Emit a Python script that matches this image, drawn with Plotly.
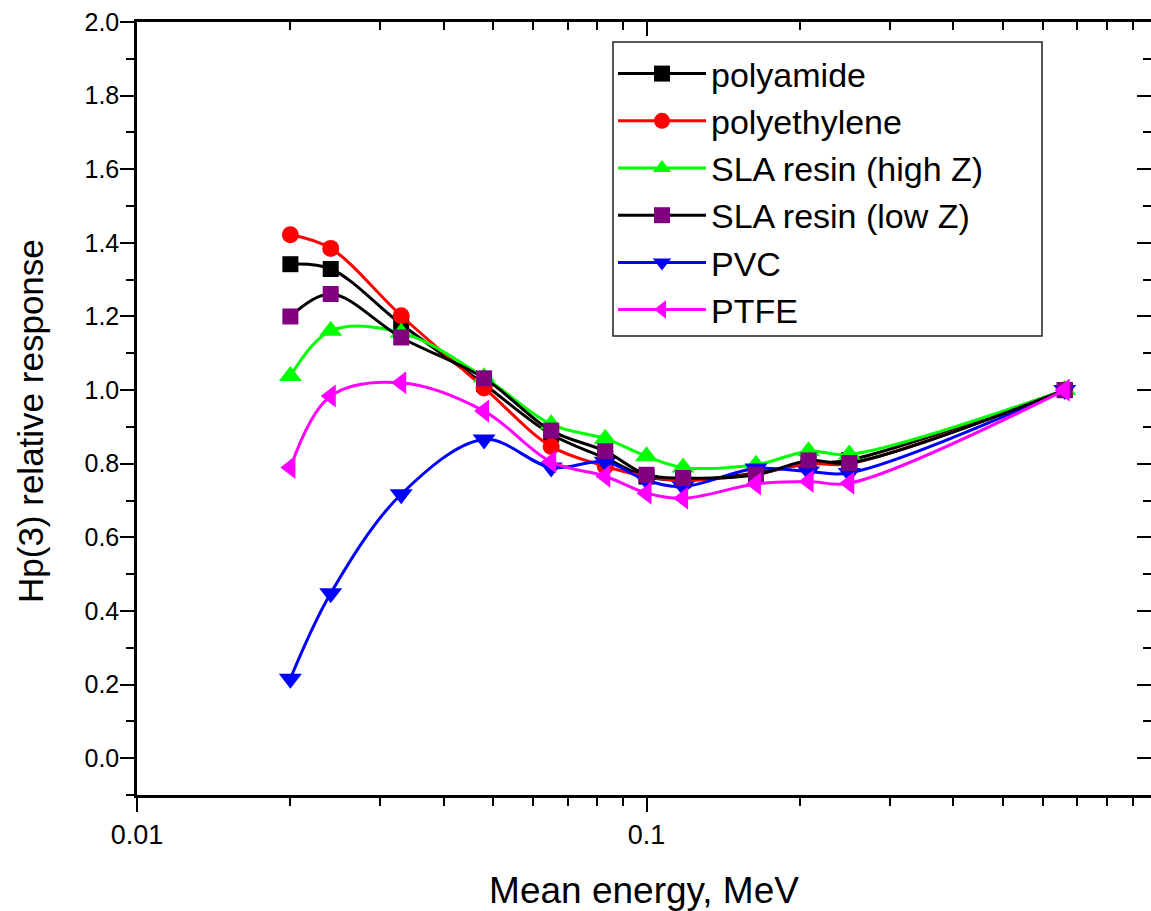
import plotly.graph_objects as go

energy = [0.020, 0.024, 0.033, 0.048, 0.065, 0.083, 0.100, 0.118, 0.164, 0.208, 0.250, 0.662]

polyamide    = [1.342, 1.329, 1.179, 1.016, 0.880, 0.815, 0.765, 0.755, 0.775, 0.800, 0.810, 1.000]
polyethylene = [1.422, 1.385, 1.202, 1.006, 0.847, 0.793, 0.765, 0.755, 0.772, 0.800, 0.800, 1.000]
sla_high     = [1.038, 1.161, 1.156, 1.035, 0.907, 0.868, 0.820, 0.790, 0.797, 0.834, 0.825, 1.000]
sla_low      = [1.200, 1.261, 1.143, 1.032, 0.890, 0.834, 0.770, 0.761, 0.770, 0.809, 0.802, 1.000]
pvc          = [0.216, 0.448, 0.717, 0.866, 0.790, 0.805, 0.755, 0.738, 0.787, 0.779, 0.775, 1.000]
ptfe         = [0.790, 0.984, 1.020, 0.943, 0.805, 0.766, 0.720, 0.706, 0.745, 0.752, 0.747, 1.000]

x_ticks = [0.01, 0.1]
x_minor = [0.02, 0.03, 0.04, 0.05, 0.06, 0.07, 0.08, 0.09,
           0.2, 0.3, 0.4, 0.5, 0.6, 0.7, 0.8, 0.9]

series = [
    ("polyamide", polyamide, "#000000", "#000000", "square", 16, 1),
    ("polyethylene", polyethylene, "#FF0000", "#FF0000", "circle", 17, 2),
    ("SLA resin (high Z)", sla_high, "#00FF00", "#00FF00", "triangle-up", 20, 3),
    ("PVC", pvc, "#0000FF", "#0000FF", "triangle-down", 20, 5),
    ("SLA resin (low Z)", sla_low, "#000000", "#800080", "square", 16, 4),
    ("PTFE", ptfe, "#FF00FF", "#FF00FF", "triangle-left", 20, 6),
]

fig = go.Figure()
for name, vals, lc, mc, sym, sz, rank in series:
    fig.add_trace(go.Scatter(
        x=energy, y=vals, name=name, mode="lines+markers",
        line=dict(color=lc, width=3, shape="spline", smoothing=1.0),
        marker=dict(color=mc, symbol=sym, size=sz, line=dict(width=0)),
        legendrank=rank, legendgroup=name,
    ))

# helper trace for the top/right mirrored axes
fig.add_trace(go.Scatter(x=[energy[0]], y=[polyamide[0]], xaxis="x2", yaxis="y2",
                         mode="markers", marker=dict(opacity=0), showlegend=False,
                         hoverinfo="skip"))

W, H = 1151, 911
ml, mr, mt, mb = 137, 0, 22, 116
pw, ph = W - ml - mr, H - mt - mb
decade_px = 509.5
xr = [-2, -2 + pw / decade_px]
yr = [-0.1, 2.0]

def px_x(p):
    return (p - ml) / pw

def px_y(p):
    return 1 - (p - mt) / ph

font_family = "Liberation Sans, Arial, sans-serif"
axis_font = dict(family=font_family, color="black")

# legend frame
fig.add_shape(type="rect", xref="paper", yref="paper",
              x0=px_x(613), x1=px_x(1042), y0=px_y(336), y1=px_y(42),
              line=dict(color="#222222", width=1.5), fillcolor="white", layer="below")

fig.add_annotation(text="Hp(3) relative response", xref="paper", yref="paper",
                   x=px_x(30), y=px_y(421), textangle=-90, showarrow=False,
                   xanchor="center", yanchor="middle",
                   font=dict(size=35, **axis_font))

fig.update_layout(
    width=W, height=H,
    margin=dict(l=ml, r=mr, t=mt, b=mb, pad=0),
    paper_bgcolor="white", plot_bgcolor="white",
    showlegend=True,
    legend=dict(
        x=px_x(613), y=px_y(45),
        xanchor="left", yanchor="top",
        borderwidth=0, bgcolor="rgba(0,0,0,0)",
        font=dict(family=font_family, size=34, color="black"),
        itemwidth=88, tracegroupgap=0, traceorder="normal",
    ),
    xaxis=dict(
        type="log", range=xr, showgrid=False, zeroline=False,
        showline=True, linecolor="black", linewidth=2.5,
        ticks="outside", ticklen=14, tickwidth=2, tickcolor="black",
        tickmode="array", tickvals=x_ticks, ticktext=["0.01", "0.1"],
        tickfont=dict(size=27, **axis_font),
        minor=dict(tickmode="array", tickvals=x_minor, ticks="outside",
                   ticklen=8, tickwidth=2, tickcolor="black"),
        title=dict(text="Mean energy, MeV", font=dict(size=37, **axis_font), standoff=30),
    ),
    yaxis=dict(
        range=yr, showgrid=False, zeroline=False,
        showline=True, linecolor="black", linewidth=2.5,
        ticks="outside", ticklen=14, tickwidth=2, tickcolor="black",
        tick0=0, dtick=0.2, tickformat=".1f",
        tickfont=dict(size=25, **axis_font), ticklabelstandoff=-4,
        minor=dict(dtick=0.1, ticks="outside", ticklen=8, tickwidth=2, tickcolor="black"),
    ),
    xaxis2=dict(
        type="log", range=xr, overlaying="x", side="top", showgrid=False, zeroline=False,
        showline=True, linecolor="black", linewidth=2.5,
        ticks="inside", ticklen=14, tickwidth=2, tickcolor="black",
        tickmode="array", tickvals=x_ticks, showticklabels=False,
        minor=dict(tickmode="array", tickvals=x_minor, ticks="inside",
                   ticklen=8, tickwidth=2, tickcolor="black"),
    ),
    yaxis2=dict(
        range=yr, overlaying="y", side="right", showgrid=False, zeroline=False,
        showline=False, ticks="inside", ticklen=14, tickwidth=2, tickcolor="black",
        tick0=0, dtick=0.2, showticklabels=False,
        minor=dict(dtick=0.1, ticks="inside", ticklen=8, tickwidth=2, tickcolor="black"),
    ),
)

fig.write_html("out.html", config={"displayModeBar": False},
               post_script="document.body.style.margin='0';")
